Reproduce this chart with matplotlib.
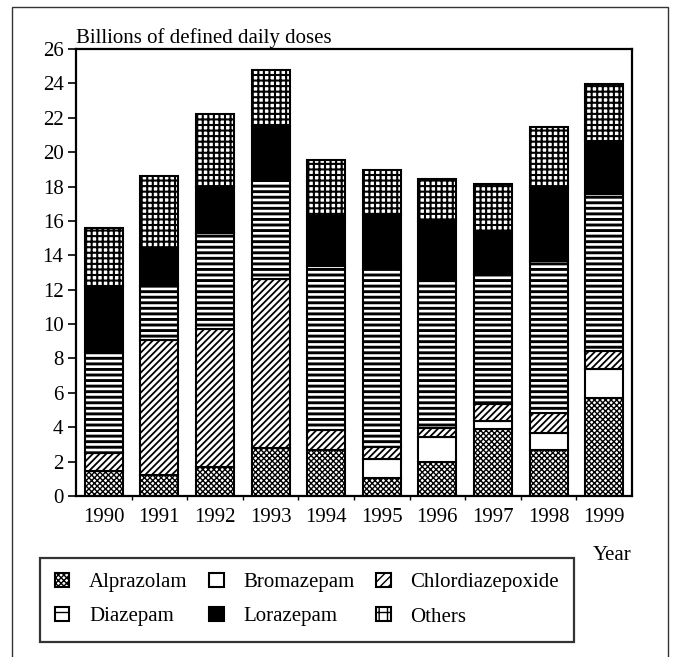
import matplotlib
matplotlib.use("Agg")
import matplotlib.pyplot as plt
from matplotlib.patches import Patch, Rectangle
import numpy as np

plt.rcParams['font.family'] = ['Liberation Serif', 'DejaVu Serif']

years = ['1990', '1991', '1992', '1993', '1994', '1995', '1996', '1997', '1998', '1999']
alprazolam = [1.45, 1.2, 1.7, 2.8, 2.65, 1.05, 2.0, 3.9, 2.7, 5.7]
bromazepam = [0, 0, 0, 0, 0, 1.1, 1.45, 0.45, 0.95, 1.7]
chlordiazepoxide = [1.05, 7.9, 8.0, 9.85, 1.2, 0.7, 0.5, 1.0, 1.15, 1.05]
diazepam = [5.9, 3.1, 5.6, 5.75, 9.55, 10.35, 8.55, 7.55, 8.85, 9.1]
lorazepam = [3.8, 2.2, 2.7, 3.1, 2.9, 3.15, 3.5, 2.45, 4.3, 3.1]
others = [3.4, 4.2, 4.2, 3.3, 3.25, 2.6, 2.45, 2.8, 3.5, 3.3]
labels = ['Alprazolam', 'Bromazepam', 'Chlordiazepoxide', 'Diazepam', 'Lorazepam', 'Others']
yticks = list(range(0, 27, 2))

series = [alprazolam, bromazepam, chlordiazepoxide, diazepam, lorazepam, others]
styles = [
    dict(facecolor='white', hatch='xxxxxx', hlw=1.0),
    dict(facecolor='white', hatch=None, hlw=1.0),
    dict(facecolor='white', hatch='/////', hlw=1.3),
    dict(facecolor='white', hatch='---', hlw=2.1),
    dict(facecolor='black', hatch=None, hlw=1.0),
    dict(facecolor='white', hatch='+++', hlw=1.5),
]

W, H = 676, 657
fig = plt.figure(figsize=(W / 100, H / 100), dpi=100)
ax = fig.add_axes([76 / W, 1 - 496 / H, 556 / W, 447 / H])

x = np.arange(len(years))
bottom = np.zeros(len(years))
for vals, st in zip(series, styles):
    with plt.rc_context({'hatch.linewidth': st['hlw'], 'hatch.color': 'black'}):
        bars = ax.bar(x, vals, width=0.68, bottom=bottom, facecolor=st['facecolor'],
                      edgecolor='black', linewidth=1.5, hatch=st['hatch'])
        for b in bars:
            try:
                b.set_hatch_linewidth(st['hlw'])
            except Exception:
                pass
    bottom += np.array(vals)

ax.set_xlim(-0.5, len(years) - 0.5)
ax.set_ylim(0, 26)
ax.set_yticks(yticks)
ax.set_yticklabels([str(t) for t in yticks], fontsize=15)
ax.set_xticks(x)
ax.set_xticklabels(years, fontsize=15)
ax.set_xticks(np.arange(len(years) - 1) + 0.5, minor=True)
ax.tick_params(axis='y', direction='out', length=6, width=1.2, pad=3)
ax.tick_params(axis='x', which='major', length=0, pad=9)
ax.tick_params(axis='x', which='minor', direction='out', length=3, width=1.0)
for s in ax.spines.values():
    s.set_linewidth(1.6)

fig.text(76 / W, 1 - 43 / H, 'Billions of defined daily doses', ha='left', va='baseline', fontsize=15)
fig.text(612 / W, 1 - 555 / H, 'Year', ha='center', va='center', fontsize=15)

leg_styles = [
    dict(facecolor='white', hatch='xxxxxx', hlw=1.0),
    dict(facecolor='white', hatch=None, hlw=1.0),
    dict(facecolor='white', hatch='////', hlw=1.2),
    dict(facecolor='white', hatch='--', hlw=1.5),
    dict(facecolor='black', hatch=None, hlw=1.0),
    dict(facecolor='white', hatch='++', hlw=1.3),
]
handles = []
for lab, st in zip(labels, leg_styles):
    p = Patch(facecolor=st['facecolor'], edgecolor='black', linewidth=1.5, hatch=st['hatch'], label=lab)
    try:
        p.set_hatch_linewidth(st['hlw'])
    except Exception:
        pass
    handles.append(p)
order = [0, 3, 1, 4, 2, 5]
leg = ax.legend([handles[i] for i in order], [labels[i] for i in order], ncol=3,
                loc='upper left', bbox_to_anchor=(40 / W, 1 - 558 / H), bbox_transform=fig.transFigure,
                borderaxespad=0, fontsize=15, frameon=True, fancybox=False, edgecolor='black',
                handlelength=0.68, handleheight=0.68, handletextpad=0.95, columnspacing=1.05,
                labelspacing=0.7, borderpad=0.72)
leg.get_frame().set_linewidth(1.6)

fig.patches.append(Rectangle((12 / W, -0.02), (668 - 12) / W, 1 - 7 / H + 0.02,
                             transform=fig.transFigure, fill=False, edgecolor='#333333', linewidth=1.0))

fig.savefig('out.png', dpi=100)
